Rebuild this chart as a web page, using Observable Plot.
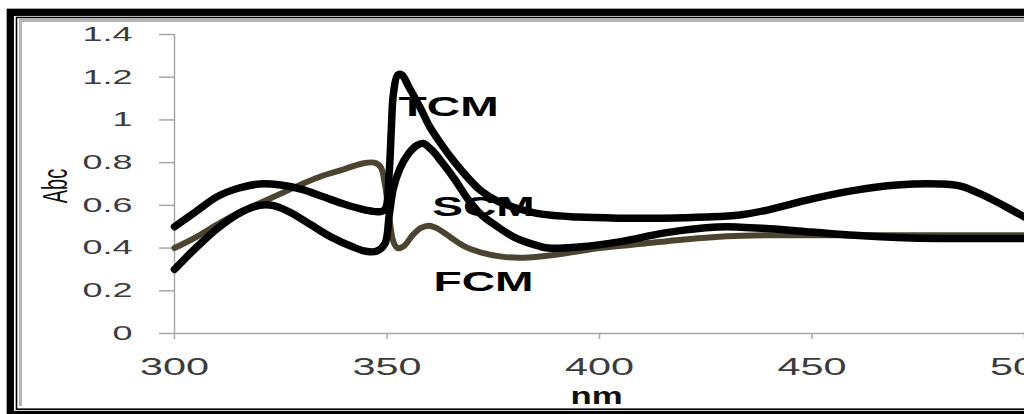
<!DOCTYPE html>
<html>
<head>
<meta charset="utf-8">
<script src="https://cdn.jsdelivr.net/npm/d3@7"></script>
<script src="https://cdn.jsdelivr.net/npm/@observablehq/plot@0.6"></script>
<style>
  html, body { margin: 0; padding: 0; background: #fff; }
  #chart { width: 1024px; height: 414px; overflow: hidden; }
</style>
</head>
<body>
<div id="chart"></div>
<script>
// ---- Data ----
const tcmNm  = [300,305,310,315,320,325,330,335,340,345,348,349.5,350.5,351,351.5,352.5,353.5,355,358,360,363,366,369,372,376,380,386,395,405,415,425,433,440,450,460,470,480,485,490,495,500];
const tcmAbc = [0.50,0.57,0.64,0.68,0.70,0.695,0.675,0.64,0.605,0.578,0.57,0.58,0.75,0.95,1.12,1.21,1.21,1.16,1.05,0.97,0.88,0.80,0.73,0.67,0.62,0.59,0.56,0.545,0.54,0.54,0.545,0.555,0.58,0.63,0.67,0.695,0.70,0.69,0.65,0.60,0.545];

const scmNm  = [300,305,310,315,320,323,327,332,337,342,345,347.5,349.5,350.5,351.5,353,355,357,358.5,360.5,363,366,369,372,376,380,384,388,395,405,415,425,430,440,450,460,470,480,490,500];
const scmAbc = [0.30,0.40,0.49,0.56,0.60,0.60,0.57,0.51,0.45,0.405,0.385,0.385,0.42,0.55,0.68,0.77,0.84,0.88,0.89,0.86,0.80,0.72,0.63,0.56,0.50,0.45,0.42,0.40,0.405,0.43,0.47,0.495,0.50,0.49,0.475,0.46,0.45,0.445,0.445,0.445];

const fcmNm  = [300,305,310,315,320,325,330,335,340,344,347,348.5,349.5,350.5,351.5,352.5,354,356,358,360,362,365,368,372,377,382,390,400,410,420,430,440,450,470,500];
const fcmAbc = [0.40,0.45,0.51,0.565,0.61,0.655,0.70,0.74,0.77,0.795,0.80,0.78,0.70,0.55,0.43,0.40,0.41,0.46,0.495,0.505,0.49,0.45,0.41,0.38,0.36,0.355,0.37,0.40,0.42,0.44,0.455,0.46,0.46,0.46,0.46];

const seriesNames  = ["TCM", "SCM", "FCM"];
const labelNm      = [364.5, 372.7, 372.7];
const labelAbc     = [1.062, 0.594, 0.24];

const xTicks = [300, 350, 400, 450, 500];
const yTicks = [0, 0.2, 0.4, 0.6, 0.8, 1, 1.2, 1.4];
const yTickLabels = ["0", "0.2", "0.4", "0.6", "0.8", "1", "1.2", "1.4"];
const xTitle = "nm";
const yTitle = "Abc";

// ---- Build tables ----
const toRows = (nm, v) => nm.map((x, i) => ({nm: x, abc: v[i]}));
const tcm = toRows(tcmNm, tcmAbc);
const scm = toRows(scmNm, scmAbc);
const fcm = toRows(fcmNm, fcmAbc);
const labels = seriesNames.map((s, i) => ({name: s, nm: labelNm[i], abc: labelAbc[i]}));

const font = "'Liberation Sans', Arial, sans-serif";

const chart = Plot.plot({
  width: 1024,
  height: 414,
  marginLeft: 174,
  marginRight: 0,
  marginTop: 34,
  marginBottom: 81,
  x: {domain: [300, 500]},
  y: {domain: [0, 1.4]},
  style: {fontFamily: font, background: "white", overflow: "visible"},
  marks: [
    Plot.ruleX([300], {stroke: "#a8a8a8", strokeWidth: 1.5}),
    Plot.ruleY([0], {stroke: "#a8a8a8", strokeWidth: 1.5}),
    Plot.axisY(yTicks, {
      tickSize: 15, tickPadding: 27, fontSize: 20, stroke: "#a8a8a8", strokeWidth: 1.5,
      fill: "#3c3c3c", tickFormat: (d, i) => yTickLabels[i], label: null
    }),
    Plot.axisX(xTicks, {
      tickSize: 6, tickPadding: 19, fontSize: 23, stroke: "#a8a8a8", strokeWidth: 1.5,
      fill: "#3c3c3c", tickFormat: d => String(d), label: null
    }),
    Plot.text([xTitle], {frameAnchor: "bottom", lineAnchor: "middle", textAnchor: "middle", dx: -3, dy: 63, text: d => d, fontSize: 24, fontWeight: "bold", fill: "#111"}),
    Plot.text([yTitle], {frameAnchor: "left", lineAnchor: "middle", textAnchor: "middle", dx: -119, dy: 2, rotate: -90, text: d => d, fontSize: 20, fill: "#111"}),
    Plot.text(labels, {x: "nm", y: "abc", text: "name", fontSize: 28, fontWeight: "bold", fill: "#000"}),
    Plot.line(fcm, {x: "nm", y: "abc", curve: "catmull-rom", stroke: "#4a4430", strokeWidth: 6}),
    Plot.line(scm, {x: "nm", y: "abc", curve: "catmull-rom", stroke: "#000", strokeWidth: 7.5}),
    Plot.line(tcm, {x: "nm", y: "abc", curve: "catmull-rom", stroke: "#000", strokeWidth: 7.5})
  ]
});

document.getElementById("chart").appendChild(chart);

// ---- Horizontal stretch of text to match the wide glyphs of the picture ----
function stretchEl(el, sx, sy) {
  const b = el.getBBox();
  const anchor = getComputedStyle(el).textAnchor;
  const cx = anchor === "end" ? b.x + b.width : anchor === "start" ? b.x : b.x + b.width / 2;
  const cy = b.y + b.height / 2;
  const t = el.getAttribute("transform") || "";
  el.setAttribute("transform", `${t} translate(${cx},${cy}) scale(${sx},${sy}) translate(${-cx},${-cy})`);
}
const yLab = new Set(yTickLabels);
const xLab = new Set(xTicks.map(String));
const sLab = new Set(seriesNames);
chart.querySelectorAll("text").forEach(el => {
  const s = el.textContent;
  if (sLab.has(s)) stretchEl(el, 1.65, 1);
  else if (s === xTitle) stretchEl(el, 1.45, 1);
  else if (s === yTitle) stretchEl(el, 1, 1.75);
  else if (xLab.has(s) || yLab.has(s)) stretchEl(el, 1.8, 1);
});

// ---- Picture frame ----
const svg = d3.select(chart);
const deco = svg.append("g").attr("fill", "none");
deco.append("rect").attr("x", 10.3).attr("y", 12.3).attr("width", 1300).attr("height", 402.2)
  .attr("stroke", "#000").attr("stroke-width", 7.3);
deco.append("rect").attr("x", 16.5).attr("y", 17.5).attr("width", 1300).attr("height", 391.7)
  .attr("stroke", "#000").attr("stroke-width", 1.6);
deco.append("path").attr("d", "M20.5,406 V20.5 H1024")
  .attr("stroke", "#b4b4b4").attr("stroke-width", 3);
</script>
</body>
</html>
